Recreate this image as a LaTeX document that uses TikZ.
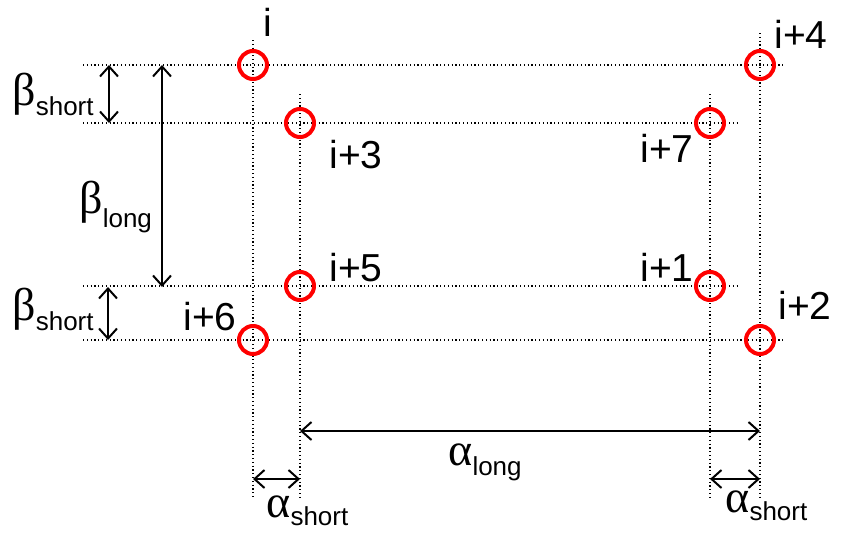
\documentclass[tikz,border=0pt]{standalone}
\usepackage{fontspec}
\setmainfont{Liberation Sans}
\newfontfamily\greekfont{Liberation Serif}
\usetikzlibrary{arrows.meta}
\newcommand\mysub[2]{\raisebox{-#1}{\fontsize{13}{13}\selectfont #2}}
\newcommand\gk[1]{{\greekfont\fontsize{23}{23}\selectfont #1}}
\begin{document}
\begin{tikzpicture}[x=0.5pt,y=-0.5pt,
  pt/.style={circle,draw=red,line width=2pt,minimum size=14pt,inner sep=0pt},
  guide/.style={line width=0.6pt,dash pattern=on 0.6pt off 1.3pt},
  dim/.style={line width=1pt,{Straight Barb[length=5pt,width=9pt]}-{Straight Barb[length=5pt,width=9pt]}},
  lbl/.style={font=\fontsize{19.5}{20}\selectfont,inner sep=0pt},
]
\useasboundingbox (0,0) rectangle (846,546);
% guide line end points
\coordinate (r1a) at (83,65);  \coordinate (r1b) at (785,65);
\coordinate (r2a) at (83,123); \coordinate (r2b) at (737,123);
\coordinate (r3a) at (83,286); \coordinate (r3b) at (737,286);
\coordinate (r4a) at (83,340); \coordinate (r4b) at (785,340);
\coordinate (c1a) at (253,40); \coordinate (c1b) at (253,498);
\coordinate (c2a) at (300,94); \coordinate (c2b) at (300,500);
\coordinate (c3a) at (710,94); \coordinate (c3b) at (710,500);
\coordinate (c4a) at (760,33); \coordinate (c4b) at (760,498);
\foreach \a in {r1,r2,r3,r4,c1,c2,c3,c4} \draw[guide] (\a a) -- (\a b);
% points
\node[pt] (p0) at (253,65) {};
\node[pt] (p4) at (760,65) {};
\node[pt] (p3) at (300,123) {};
\node[pt] (p7) at (710,123) {};
\node[pt] (p5) at (300,286) {};
\node[pt] (p1) at (710,286) {};
\node[pt] (p6) at (253,340) {};
\node[pt] (p2) at (760,340) {};
% point labels
\node[lbl] (l0) at (268,22) {i};
\node[lbl] (l4) at (801,34) {i+4};
\node[lbl] (l3) at (356,155) {i+3};
\node[lbl] (l7) at (667,148) {i+7};
\node[lbl] (l5) at (356,268) {i+5};
\node[lbl] (l1) at (667,267) {i+1};
\node[lbl] (l6) at (210,317) {i+6};
\node[lbl] (l2) at (805,305) {i+2};
% dimension arrows
\coordinate (bs1a) at (109,65);  \coordinate (bs1b) at (109,123);
\coordinate (bla)  at (162,65);  \coordinate (blb)  at (162,287);
\coordinate (bs2a) at (108,287); \coordinate (bs2b) at (108,340);
\coordinate (ala)  at (300,431); \coordinate (alb)  at (760,431);
\coordinate (as1a) at (253,479); \coordinate (as1b) at (300,479);
\coordinate (as2a) at (710,479); \coordinate (as2b) at (760,479);
\draw[dim] (bs1a) -- (bs1b);
\draw[dim] (bla) -- (blb);
\draw[dim] (bs2a) -- (bs2b);
\draw[dim] (ala) -- (alb);
\draw[dim] (as1a) -- (as1b);
\draw[dim] (as2a) -- (as2b);
% dimension labels
\node[lbl,anchor=base west] (tbs1) at (12,105) {\gk{β}\mysub{5pt}{short}};
\node[lbl,anchor=base west] (tbl)  at (79,213) {\gk{β}\mysub{7pt}{long}};
\node[lbl,anchor=base west] (tbs2) at (12,320) {\gk{β}\mysub{5pt}{short}};
\node[lbl,anchor=base west] (tal)  at (448,465) {\gk{α}\mysub{5pt}{long}};
\node[lbl,anchor=base west] (tas1) at (266,517) {\gk{α}\mysub{4pt}{short}};
\node[lbl,anchor=base west] (tas2) at (725,512) {\gk{α}\mysub{4pt}{short}};
\end{tikzpicture}
\end{document}
